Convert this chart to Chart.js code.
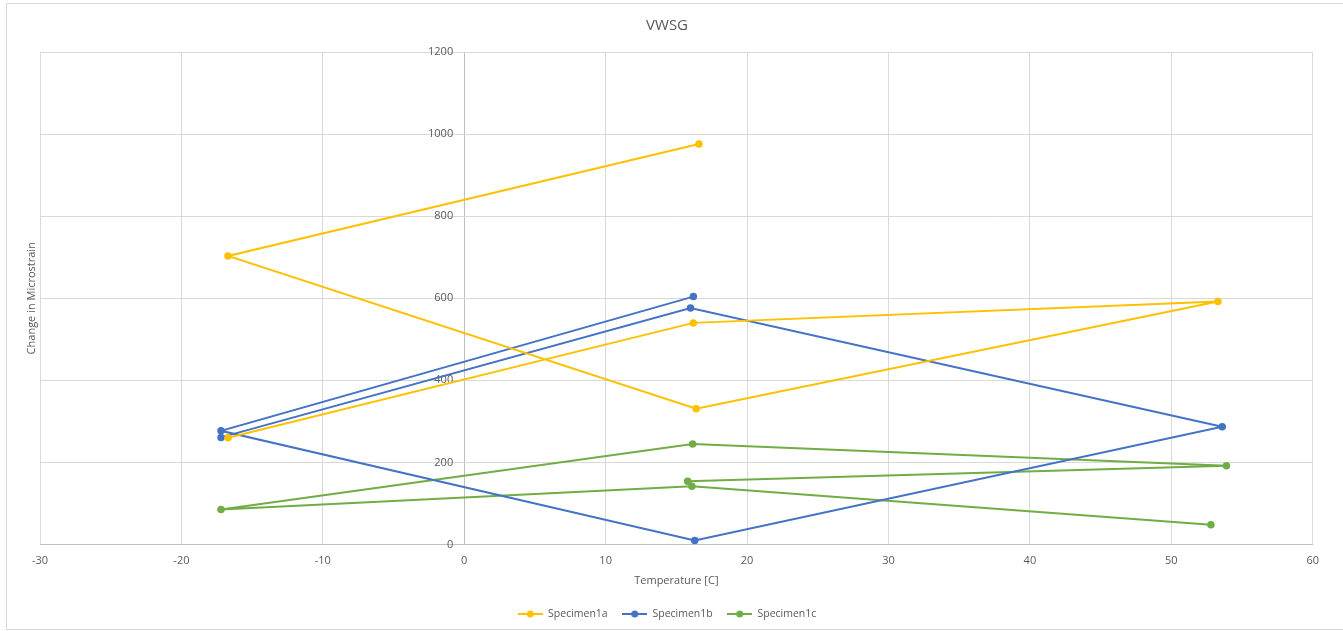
<!DOCTYPE html>
<html>
<head>
<meta charset="utf-8">
<title>VWSG</title>
<script src="https://cdn.jsdelivr.net/npm/chart.js@4/dist/chart.umd.min.js"></script>
<style>
  html, body { margin: 0; padding: 0; background: #ffffff; }
  #wrap { position: relative; width: 1343px; height: 631px; }
</style>
</head>
<body>
<div id="wrap"><canvas id="chart" width="1343" height="631"></canvas></div>
<script>
// Temperature [C] / change in microstrain, in test order for each specimen
const seriesNames = ['Specimen1a', 'Specimen1b', 'Specimen1c'];
const seriesColors = ['#FFC000', '#4472C4', '#70AD47'];

const temp1a = [16.6, -16.7, 16.4, 53.3, 16.2, -16.7];
const strain1a = [976, 703, 331, 592, 540, 260];

const temp1b = [16.2, -17.2, 16.3, 53.6, 16.0, -17.2];
const strain1b = [604, 277, 10, 287, 576, 261];

const temp1c = [15.8, 53.9, 16.15, -17.2, 16.1, 52.8];
const strain1c = [154, 192, 245, 85, 142, 48];

const xTicks = [-30, -20, -10, 0, 10, 20, 30, 40, 50, 60];
const yTicks = [0, 200, 400, 600, 800, 1000, 1200];

const FONT = "'Open Sans', 'DejaVu Sans', sans-serif";
const TEXT = '#595959';
const GRID = '#d9d9d9';
const AXIS = '#bfbfbf';

function toPoints(xs, ys) {
  return xs.map((x, i) => ({ x: x, y: ys[i] }));
}

// legend marker: short line with a dot in the middle
function legendMarker(color) {
  const c = document.createElement('canvas');
  c.width = 25; c.height = 8;
  const g = c.getContext('2d');
  g.strokeStyle = color; g.lineWidth = 2;
  g.beginPath(); g.moveTo(0, 4); g.lineTo(25, 4); g.stroke();
  g.fillStyle = color;
  g.beginPath(); g.arc(12.5, 4, 3.5, 0, Math.PI * 2); g.fill();
  return c;
}

const seriesData = [
  toPoints(temp1a, strain1a),
  toPoints(temp1b, strain1b),
  toPoints(temp1c, strain1c)
];

const datasets = seriesNames.map((name, i) => ({
  label: name,
  data: seriesData[i],
  showLine: true,
  borderColor: seriesColors[i],
  backgroundColor: seriesColors[i],
  borderWidth: 2,
  pointRadius: 3.75,
  pointBorderWidth: 0,
  pointBackgroundColor: seriesColors[i],
  tension: 0
}));

const markers = seriesColors.map(legendMarker);

const frame = {
  id: 'frame',
  beforeDraw(chart) {
    const ctx = chart.ctx;
    ctx.save();
    ctx.fillStyle = '#ffffff';
    ctx.fillRect(0, 0, chart.width, chart.height);
    ctx.strokeStyle = GRID;
    ctx.lineWidth = 1;
    ctx.strokeRect(6.5, 3.5, chart.width + 10, 626);
    ctx.restore();
  }
};

new Chart(document.getElementById('chart'), {
  type: 'scatter',
  data: { datasets: datasets },
  plugins: [frame],
  options: {
    responsive: false,
    animation: false,
    layout: { padding: { left: 21.4, right: 30.3, top: 0, bottom: 1.75 } },
    plugins: {
      title: {
        display: true,
        text: 'VWSG',
        color: TEXT,
        font: { family: FONT, size: 15, weight: 'normal' },
        padding: { top: 16.7, bottom: 17.3 }
      },
      legend: {
        position: 'bottom',
        labels: {
          color: TEXT,
          font: { family: FONT, size: 10.5 },
          usePointStyle: true,
          pointStyleWidth: 25,
          boxHeight: 8,
          padding: 14.5,
          generateLabels(chart) {
            return chart.data.datasets.map((ds, i) => ({
              text: ds.label,
              fillStyle: ds.borderColor,
              strokeStyle: ds.borderColor,
              fontColor: TEXT,
              lineWidth: 0,
              pointStyle: markers[i],
              hidden: !chart.isDatasetVisible(i),
              datasetIndex: i
            }));
          }
        }
      },
      tooltip: { enabled: false }
    },
    scales: {
      x: {
        type: 'linear',
        position: 'bottom',
        min: xTicks[0],
        max: xTicks[xTicks.length - 1],
        afterBuildTicks(axis) { axis.ticks = xTicks.map(v => ({ value: v })); },
        afterFit(axis) { axis.height = 49.75; },
        ticks: { color: TEXT, font: { family: FONT, size: 11, lineHeight: 1 }, padding: 10.5 },
        grid: {
          color: (c) => (c.tick && c.tick.value === 0 ? AXIS : GRID),
          lineWidth: 1,
          drawTicks: false
        },
        border: { color: AXIS, width: 1 },
        title: {
          display: true,
          text: 'Temperature [C]',
          color: TEXT,
          font: { family: FONT, size: 11 },
          padding: { top: 0, bottom: 7.15 }
        }
      },
      y: {
        type: 'linear',
        position: { x: -0.78 },
        min: yTicks[0],
        max: yTicks[yTicks.length - 1],
        afterBuildTicks(axis) { axis.ticks = yTicks.map(v => ({ value: v })); },
        ticks: {
          color: TEXT,
          font: { family: FONT, size: 11 },
          callback: (v) => String(v)
        },
        grid: { color: GRID, lineWidth: 1, drawTicks: false },
        border: { display: false }
      },
      yTitle: {
        type: 'linear',
        axis: 'y',
        position: 'left',
        min: yTicks[0],
        max: yTicks[yTicks.length - 1],
        ticks: { display: false },
        grid: { display: false, drawTicks: false },
        border: { display: false },
        title: {
          display: true,
          text: 'Change in Microstrain',
          color: TEXT,
          font: { family: FONT, size: 11 },
          padding: { top: 4, bottom: 1.4 }
        }
      }
    }
  }
});
</script>
</body>
</html>
